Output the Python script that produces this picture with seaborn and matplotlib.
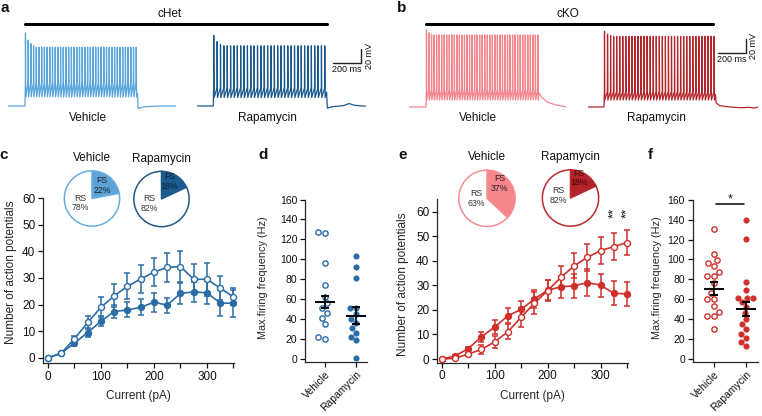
import numpy as np
import matplotlib
matplotlib.use('Agg')
import matplotlib.pyplot as plt
import seaborn as sns
from matplotlib.lines import Line2D
from matplotlib.ticker import MultipleLocator

# ---------------- data ----------------
current = [0, 25, 50, 75, 100, 125, 150, 175, 200, 225, 250, 275, 300, 325, 350]

c_veh_mean = [0, 1.8, 7.2, 13.3, 19.0, 23.3, 26.9, 29.6, 32.2, 34.0, 34.3, 29.5, 29.5, 26.2, 22.9]
c_veh_sem = [0, 0.5, 1.2, 2.5, 3.8, 4.3, 4.8, 5.4, 5.4, 5.5, 6.0, 5.6, 6.1, 4.6, 3.2]
c_rap_mean = [0, 1.8, 5.6, 9.5, 13.8, 17.4, 18.0, 19.0, 20.9, 19.8, 24.2, 24.8, 24.4, 20.6, 20.5]
c_rap_sem = [0, 0.4, 1.0, 1.8, 2.0, 2.6, 2.8, 3.0, 3.6, 2.8, 4.0, 3.8, 4.3, 4.8, 5.0]

e_veh_mean = [0, 0.3, 2.0, 3.9, 7.0, 11.1, 17.0, 22.7, 27.8, 33.2, 37.9, 41.4, 44.1, 45.8, 47.4]
e_veh_sem = [0, 0.3, 0.6, 1.7, 2.5, 3.0, 3.8, 4.5, 4.2, 4.8, 5.1, 5.4, 5.5, 5.4, 5.1]
e_rap_mean = [0, 1.2, 4.2, 9.0, 13.0, 17.6, 20.2, 24.4, 28.0, 29.4, 29.8, 31.1, 30.1, 26.8, 26.5]
e_rap_sem = [0, 0.5, 0.7, 2.0, 2.7, 3.0, 3.5, 3.8, 4.0, 4.5, 5.0, 5.5, 4.7, 4.8, 5.0]

groups = ['Vehicle', 'Rapamycin']
d_veh = [127.5, 126.5, 96.5, 74, 62.5, 56, 51, 46, 41, 35, 22, 20]
d_rap = [103, 92.5, 81.5, 51.5, 51.5, 45, 40, 36, 31, 26, 22, 19, 1.5]
d_mean = [57.5, 43.3]
d_sem = [6.0, 8.5]

f_veh = [131, 105, 99, 96, 93, 87, 83, 83, 76, 66, 60, 60, 53, 47, 43, 43, 30]
f_rap = [140, 120.5, 77.5, 69, 61.5, 61.5, 61.5, 57, 52, 46, 40, 35, 30, 25, 21, 17, 13]
f_mean = [70.5, 50.3]
f_sem = [6.4, 7.2]

pie_labels = ['FS', 'RS']
pie_c_veh = [22, 78]
pie_c_rap = [18, 82]
pie_e_veh = [37, 63]
pie_e_rap = [18, 82]

# example voltage traces: [step on, last spike, step off, total] (ms)
het_veh_times = [121, 915, 925, 1200]
het_veh_n = 42
het_veh_peaks = [34, 24, 19, 16, 14]
het_veh_levels = [-36, -57, -52]          # threshold, AHP, plateau (mV)
het_veh_tail = [(4, -73.5), (50, -71), (160, -70)]

het_rap_times = [116, 912, 926, 1207]
het_rap_n = 34
het_rap_peaks = [31, 22, 18, 16]
het_rap_levels = [-44, -58, -50]
het_rap_tail = [(5, -73), (40, -71), (120, -69.5), (160, -66.5), (200, -69), (260, -70)]

ko_veh_times = [121, 920, 928, 1121]
ko_veh_n = 45
ko_veh_peaks = [40, 36, 34, 33]
ko_veh_levels = [-45, -60, -50]
ko_veh_tail = [(20, -56), (60, -63), (120, -67), (190, -69.5)]

ko_rap_times = [114, 900, 910, 1214]
ko_rap_n = 37
ko_rap_peaks = [38, 34, 32, 31]
ko_rap_levels = [-48, -60, -52]
ko_rap_tail = [(5, -64), (30, -68), (100, -70), (180, -71), (240, -70.5), (280, -71.5)]

BASE = -70

# ---------------- colours ----------------
blue_light = '#5aa5dc'
blue_dark = '#1c5a8e'
blue_mid = '#2a6ca6'
red_light = '#f4878d'
red_dark = '#b3262b'
red_mid = '#cf2f2a'

W, H = 762, 416
sns.set_theme(style='ticks')
plt.rcParams['font.family'] = ['Liberation Sans', 'DejaVu Sans']
plt.rcParams['axes.linewidth'] = 0.9
plt.rcParams['text.color'] = '#111111'

fig = plt.figure(figsize=(W / 100, H / 100), dpi=100)


def px_axes(x0, y0, x1, y1):
    return fig.add_axes([x0 / W, 1 - y1 / H, (x1 - x0) / W, (y1 - y0) / H])


def ftext(x, y, s, **kw):
    kw.setdefault('ha', 'center')
    kw.setdefault('va', 'center')
    fig.text(x / W, 1 - y / H, s, **kw)


def build_trace(times, n, peaks, levels, tail):
    on, last, off, dur = times
    thr, ahp, plat = levels
    spikes = np.linspace(on + 3, last, n)
    t = [0, on, on + 2]
    v = [BASE, BASE, thr - 6]
    for i, ts in enumerate(spikes):
        pk = peaks[min(i, len(peaks) - 1)]
        t += [ts, ts + 0.8, ts + 3.0]
        v += [thr, pk, ahp]
    t.append(off)
    v.append(plat)
    for dt, dv in tail:
        t.append(off + dt)
        v.append(dv)
    t.append(dur)
    v.append(BASE)
    return np.array(t, float), np.array(v, float)


MS_PX = 0.14   # px per ms
MV_PX = 0.7    # px per mV


def trace_axes(x0, base_px, times, n, peaks, levels, tail, color):
    dur = times[3]
    ax = px_axes(x0, base_px - (45 - BASE) * MV_PX, x0 + dur * MS_PX, base_px + 8 * MV_PX)
    t, v = build_trace(times, n, peaks, levels, tail)
    sns.lineplot(x=t, y=v, sort=False, estimator=None, ax=ax, color=color, lw=0.9)
    ax.set_xlim(0, dur)
    ax.set_ylim(-78, 45)
    ax.axis('off')
    return ax


def scale_bar(ax, x, y):
    kw = dict(color='#222222', lw=1.0, clip_on=False)
    ax.plot([x, x + 200], [y, y], **kw)
    ax.plot([x + 200, x + 200], [y, y + 20], **kw)
    ax.text(x + 100, y - 3, '200 ms', ha='center', va='top', fontsize=6.5, clip_on=False)
    ax.text(x + 260, y + 10, '20 mV', ha='center', va='center', rotation=90,
            fontsize=6.5, clip_on=False)


# ---------------- panel a / b traces ----------------
ax_hv = trace_axes(8, 106, het_veh_times, het_veh_n, het_veh_peaks, het_veh_levels,
                   het_veh_tail, blue_light)
ax_hr = trace_axes(197, 106, het_rap_times, het_rap_n, het_rap_peaks, het_rap_levels,
                   het_rap_tail, blue_dark)
scale_bar(ax_hr, 971, -9)

ax_kv = trace_axes(409, 107, ko_veh_times, ko_veh_n, ko_veh_peaks, ko_veh_levels,
                   ko_veh_tail, red_light)
ax_kr = trace_axes(588, 107, ko_rap_times, ko_rap_n, ko_rap_peaks, ko_rap_levels,
                   ko_rap_tail, red_dark)
scale_bar(ax_kr, 925, 7)

fig.add_artist(Line2D([25 / W, 327 / W], [1 - 24 / H, 1 - 24 / H], color='black', lw=2.2))
fig.add_artist(Line2D([426 / W, 713 / W], [1 - 24 / H, 1 - 24 / H], color='black', lw=2.2))
ftext(170, 14, 'cHet', fontsize=8.5)
ftext(568, 14, 'cKO', fontsize=8.5)
ftext(88, 118, 'Vehicle', fontsize=8.5)
ftext(267, 118, 'Rapamycin', fontsize=8.5)
ftext(478, 118, 'Vehicle', fontsize=8.5)
ftext(656, 118, 'Rapamycin', fontsize=8.5)

for x, y, s in [(5, 8, 'a'), (402, 8, 'b'), (4, 155, 'c'), (263, 155, 'd'),
                (403, 155, 'e'), (650, 155, 'f')]:
    ftext(x, y, s, fontsize=11, fontweight='bold')


# ---------------- curves c / e ----------------
def curve_panel(box, xlim, ylim, series, color, ylab_x, ylab_y):
    ax = px_axes(*box)
    for mean, sem, open_marker in series:
        ax.errorbar(current, mean, yerr=sem, fmt='none', ecolor=color, elinewidth=1.1,
                    capsize=2.2, capthick=1.1, zorder=2, clip_on=False)
        sns.lineplot(x=current, y=mean, ax=ax, color=color, lw=1.2, marker='o',
                     markersize=4.3, markeredgecolor=color, markeredgewidth=1.0,
                     markerfacecolor='white' if open_marker else color, zorder=3,
                     clip_on=False)
    ax.set_xlim(*xlim)
    ax.set_ylim(*ylim)
    ax.set_xticks([0, 100, 200, 300])
    ax.xaxis.set_minor_locator(MultipleLocator(50))
    ax.set_yticks(range(0, 61, 10))
    ax.tick_params(which='both', direction='out', length=3.5, width=0.9, labelsize=8.5,
                   pad=2, colors='#111111')
    ax.set_xlabel('Current (pA)', fontsize=8.5)
    ax.set_ylabel('Number of action potentials', fontsize=8.5)
    ax.xaxis.set_label_coords(0.5, -0.165)
    ax.yaxis.set_label_coords(ylab_x, ylab_y)
    sns.despine(ax=ax)
    return ax


ax_c = curve_panel((43, 198, 234, 363), (-9.4, 351), (-1.9, 60),
                   [(c_rap_mean, c_rap_sem, False), (c_veh_mean, c_veh_sem, True)],
                   blue_mid, -0.136, 0.55)
ax_e = curve_panel((437, 199.4, 627.5, 362.7), (-8.9, 351), (-1.5, 65),
                   [(e_rap_mean, e_rap_sem, False), (e_veh_mean, e_veh_sem, True)],
                   red_mid, -0.147, 0.48)
for xv in [325, 350]:
    ax_e.text(xv, 59.5, '**', rotation=90, ha='center', va='center', fontsize=9.5,
              clip_on=False)


# ---------------- pies ----------------
def pie(cx, cy, r, values, fill, edge, title, fs_pos, rs_pos, fs_color='#222222'):
    ax = px_axes(cx - r, cy - r, cx + r, cy + r)
    ax.pie(values, startangle=90, counterclock=False, colors=[fill, 'white'],
           wedgeprops=dict(edgecolor=edge, linewidth=1.1))
    ax.set_xlim(-1.03, 1.03)
    ax.set_ylim(-1.03, 1.03)
    ax.text(fs_pos[0], fs_pos[1], f'{pie_labels[0]}\n{values[0]}%', ha='center',
            va='center', fontsize=6.3, color=fs_color, linespacing=1.1)
    ax.text(rs_pos[0], rs_pos[1], f'{pie_labels[1]}\n{values[1]}%', ha='center',
            va='center', fontsize=6.3, color='#333333', linespacing=1.1)
    ax.text(0, 1.45, title, ha='center', va='center', fontsize=8.5)


pie(92, 198.5, 28.5, pie_c_veh, '#5da3d8', '#6aaee0', 'Vehicle', (0.36, 0.48), (-0.42, -0.16))
pie(161.5, 199, 28.5, pie_c_rap, '#1d5a8f', '#1f5a8c', 'Rapamycin', (0.29, 0.64),
    (-0.44, -0.15), fs_color='#0d2238')
pie(487, 198.3, 29, pie_e_veh, '#f7868c', '#f58e93', 'Vehicle', (0.45, 0.52), (-0.38, 0.0))
pie(570.5, 198, 29, pie_e_rap, '#b3232a', '#b52a2e', 'Rapamycin', (0.29, 0.71),
    (-0.44, 0.1), fs_color='#3a0508')


# ---------------- scatter d / f ----------------
def dot_panel(box, xlim, veh, rap, mean, sem, color, ylab_x):
    ax = px_axes(*box)
    n0 = len(ax.collections)
    sns.swarmplot(x=['Vehicle'] * len(veh), y=veh, order=groups, ax=ax, color=color,
                  size=3.8, linewidth=1.0, edgecolor=color, zorder=3, clip_on=False)
    for coll in ax.collections[n0:]:
        coll.set_facecolor('white')
    sns.swarmplot(x=['Rapamycin'] * len(rap), y=rap, order=groups, ax=ax, color=color,
                  size=3.8, linewidth=0.6, edgecolor=color, zorder=3, clip_on=False)
    ax.errorbar([0, 1], mean, yerr=sem, fmt='_', color='black', markersize=15,
                markeredgewidth=1.4, elinewidth=1.2, capsize=2.8, capthick=1.2, zorder=5)
    ax.set_xlim(*xlim)
    ax.set_ylim(-3, 160)
    ax.set_yticks(range(0, 161, 20))
    ax.set_xticks([0, 1])
    ax.set_xticklabels(groups, rotation=45, ha='right', rotation_mode='anchor', fontsize=7.5)
    ax.tick_params(direction='out', length=3.5, width=0.9, labelsize=7.5, pad=2,
                   colors='#111111')
    ax.set_xlabel('')
    ax.set_ylabel('Max.firing frequency (Hz)', fontsize=7.8)
    ax.yaxis.set_label_coords(ylab_x, 0.52)
    sns.despine(ax=ax)
    return ax


ax_d = dot_panel((305, 199.5, 367, 362), (-0.65, 1.35), d_veh, d_rap, d_mean, d_sem,
                 blue_mid, -0.6)
ax_f = dot_panel((692.7, 199.7, 757.5, 362), (-0.66, 1.36), f_veh, f_rap, f_mean, f_sem,
                 red_mid, -0.47)
ax_f.plot([0.08, 0.95], [155.5, 155.5], color='black', lw=1.1, clip_on=False)
ax_f.text(0.5, 160, '*', ha='center', va='center', fontsize=9, clip_on=False)

fig.savefig('out.png', dpi=100)
